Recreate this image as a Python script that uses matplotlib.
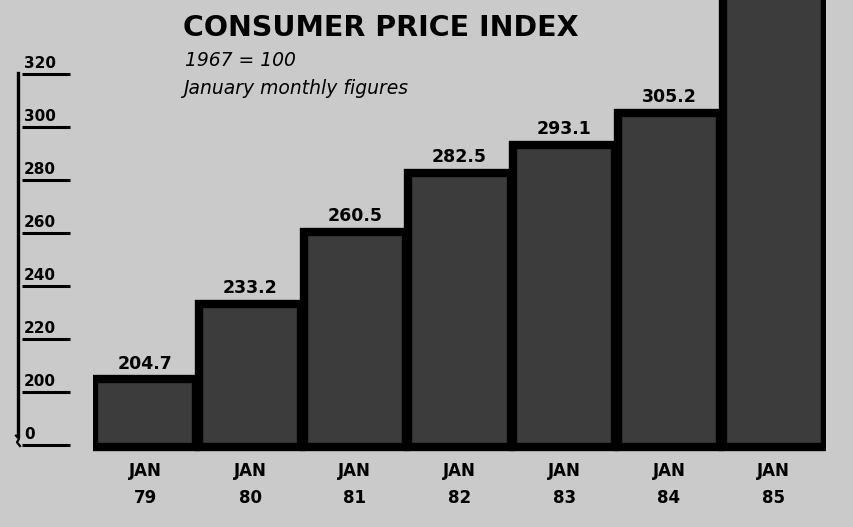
import matplotlib
matplotlib.use("Agg")
import matplotlib.pyplot as plt
import matplotlib.transforms as mtransforms

years = ["79", "80", "81", "82", "83", "84", "85"]
cpi = [204.7, 233.2, 260.5, 282.5, 293.1, 305.2, 352.0]   # Jan '85 bar runs off the top
shown_labels = ["204.7", "233.2", "260.5", "282.5", "293.1", "305.2", None]
tick_values = [0, 200, 220, 240, 260, 280, 300, 320]

BG = "#cacaca"
FILL = "#3c3c3c"

# the axis is broken between 0 and 200: "0" sits one step below 200
def axis_pos(v):
    return 180 if v == 0 else v

W, H = 854, 527
fig = plt.figure(figsize=(W / 100, H / 100), dpi=100, facecolor=BG)
ax = fig.add_axes([93 / W, (H - 455) / H, (826 - 93) / W, 455 / H])
ax.set_facecolor(BG)
ax.set_xlim(-0.5, 6.5)
ax.set_ylim(176.2, 347.9)
for s in ax.spines.values():
    s.set_visible(False)
ax.set_xticks([])
ax.set_yticks([])

base = 179.4
x = list(range(len(years)))
ax.bar(x, [v - base for v in cpi], bottom=base, width=0.975, color=FILL,
       edgecolor="black", linewidth=6, clip_on=True)

for xi, v, lab in zip(x, cpi, shown_labels):
    if lab:
        ax.text(xi, v + 2.6, lab, ha="center", va="bottom", fontsize=12.5,
                fontweight="bold", color="black")

# month / year labels under the bars
for xi, yr in zip(x, years):
    ax.text(xi, 170.2, "JAN", ha="center", va="center", fontsize=12,
            fontweight="heavy", color="black", clip_on=False)
    ax.text(xi, 160.0, yr, ha="center", va="center", fontsize=12,
            fontweight="heavy", color="black", clip_on=False)

# hand-drawn y axis at the left
tr = mtransforms.blended_transform_factory(fig.transFigure, ax.transData)
for v in tick_values:
    p = axis_pos(v)
    ax.plot([22 / W, 70 / W], [p, p], color="black", lw=2.2, transform=tr,
            clip_on=False, solid_capstyle="butt")
    ax.text(24 / W, p + 1.2, str(v), ha="left", va="bottom", fontsize=11,
            fontweight="heavy", color="black", transform=tr, clip_on=False)
ax.plot([18 / W, 18 / W], [320.5, 183.5], color="black", lw=2.4,
        transform=tr, clip_on=False)
ax.plot([16 / W, 19 / W, 17 / W, 20 / W], [183.5, 182.3, 181.0, 179.6],
        color="black", lw=1.6, transform=tr, clip_on=False)

# titles
fig.text(183 / W, 1 - 28 / H, "CONSUMER PRICE INDEX", ha="left", va="center",
         fontsize=20.5, fontweight="heavy", color="black")
fig.text(185 / W, 1 - 61 / H, "1967 = 100", ha="left", va="center",
         fontsize=13.5, fontstyle="italic", color="black")
fig.text(183 / W, 1 - 88 / H, "January monthly figures", ha="left", va="center",
         fontsize=13.5, fontstyle="italic", color="black")

fig.savefig("out.png", dpi=100, facecolor=BG)
